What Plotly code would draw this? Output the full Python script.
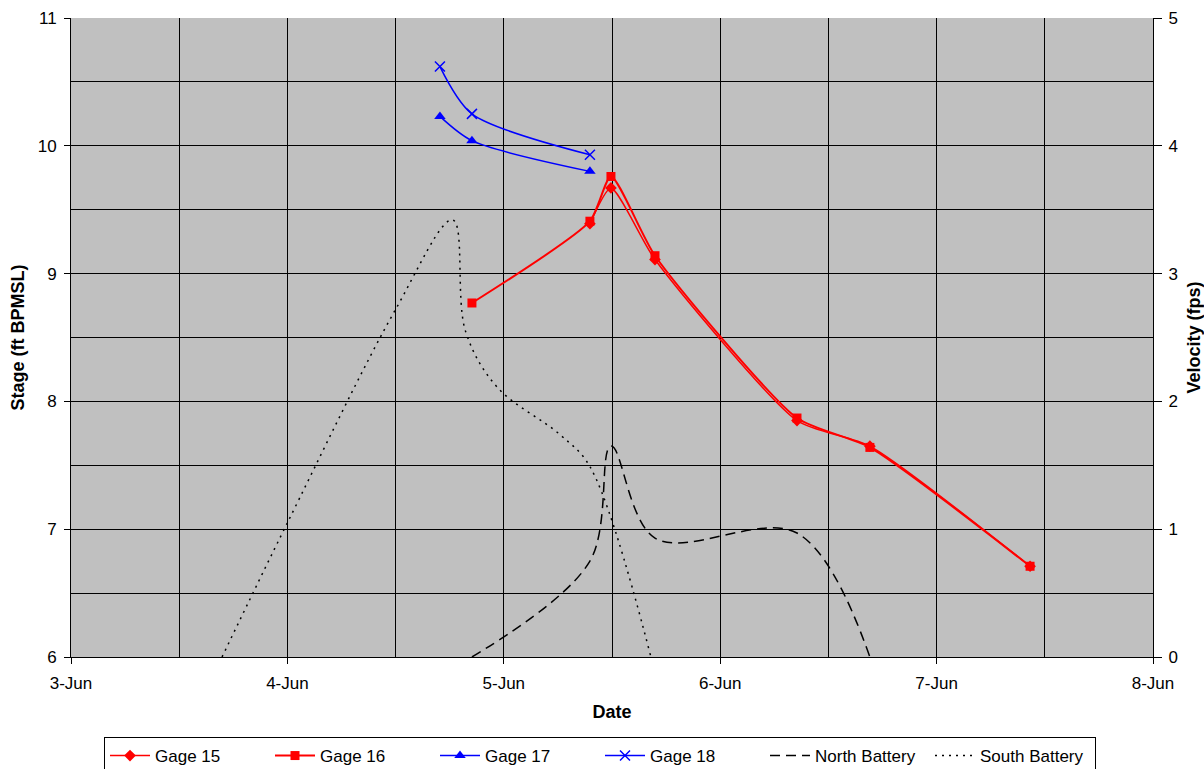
import plotly.graph_objects as go

# ---- data ----
g15_t = ["2008-06-05 09:33", "2008-06-05 11:53", "2008-06-05 16:46", "2008-06-06 08:31", "2008-06-06 16:36", "2008-06-07 10:22"]
g15_v = [9.39, 9.67, 9.11, 7.85, 7.65, 6.71]

g16_t = ["2008-06-04 20:28", "2008-06-05 09:33", "2008-06-05 11:53", "2008-06-05 16:46", "2008-06-06 08:31", "2008-06-06 16:36", "2008-06-07 10:22"]
g16_v = [8.77, 9.41, 9.76, 9.14, 7.87, 7.64, 6.71]

g17_t = ["2008-06-04 16:55", "2008-06-04 20:28", "2008-06-05 09:33"]
g17_v = [10.23, 10.04, 9.80]

g18_t = ["2008-06-04 16:55", "2008-06-04 20:28", "2008-06-05 09:33"]
g18_v = [10.62, 10.25, 9.93]

nb_t = ["2008-06-04 20:28", "2008-06-05 09:33", "2008-06-05 11:53", "2008-06-05 16:46", "2008-06-06 08:31", "2008-06-06 16:36"]
nb_v = [0.0, 0.75, 1.65, 0.93, 0.97, 0.0]

sb_t = ["2008-06-03 16:45", "2008-06-04 00:00", "2008-06-04 12:00", "2008-06-04 18:20",
        "2008-06-04 19:45", "2008-06-04 23:17", "2008-06-05 06:14", "2008-06-05 09:33", "2008-06-05 16:19"]
sb_v = [0.0, 1.05, 2.72, 3.42, 2.55, 2.11, 1.74, 1.49, 0.0]

x_ticks = ["2008-06-03", "2008-06-04", "2008-06-05", "2008-06-06", "2008-06-07", "2008-06-08"]
x_labels = ["3-Jun", "4-Jun", "5-Jun", "6-Jun", "7-Jun", "8-Jun"]

FONT = "Liberation Sans, Arial, sans-serif"
RED = "#FF0000"
BLUE = "#0000FF"
SM = 0.6

fig = go.Figure()
fig.add_trace(go.Scatter(x=g15_t, y=g15_v, name="Gage 15", mode="lines+markers",
                         line=dict(color=RED, width=1.5, shape="spline", smoothing=SM),
                         marker=dict(symbol="diamond", size=9, color=RED)))
fig.add_trace(go.Scatter(x=g16_t, y=g16_v, name="Gage 16", mode="lines+markers",
                         line=dict(color=RED, width=2, shape="spline", smoothing=SM),
                         marker=dict(symbol="square", size=9, color=RED)))
fig.add_trace(go.Scatter(x=g17_t, y=g17_v, name="Gage 17", mode="lines+markers",
                         line=dict(color=BLUE, width=1.5, shape="spline", smoothing=0.8),
                         marker=dict(symbol="triangle-up", size=10, color=BLUE)))
fig.add_trace(go.Scatter(x=g18_t, y=g18_v, name="Gage 18", mode="lines+markers",
                         line=dict(color=BLUE, width=1.5, shape="spline", smoothing=0.8),
                         marker=dict(symbol="x-thin-open", size=10, color=BLUE,
                                     line=dict(color=BLUE, width=1.5))))
fig.add_trace(go.Scatter(x=nb_t, y=nb_v, name="North Battery", mode="lines", yaxis="y2",
                         line=dict(color="black", width=1.5, shape="spline", dash="10px,6px")))
fig.add_trace(go.Scatter(x=sb_t, y=sb_v, name="South Battery", mode="lines", yaxis="y2",
                         line=dict(color="black", width=1.5, shape="spline", smoothing=1.0,
                                   dash="2px,5px")))

fig.update_layout(
    width=1204, height=769,
    margin=dict(l=71, r=51, t=18, b=112, autoexpand=False),
    paper_bgcolor="white", plot_bgcolor="#C0C0C0",
    font=dict(family=FONT, size=17, color="black"),
    showlegend=True,
    legend=dict(orientation="h", x=104 / 1204, xanchor="left", xref="container",
                y=(769 - 737) / 769, yanchor="top", yref="container",
                bordercolor="black", borderwidth=1, bgcolor="white",
                font=dict(size=17), itemwidth=40, entrywidth=110, entrywidthmode="pixels",
                traceorder="normal"),
    xaxis=dict(type="date", range=["2008-06-03", "2008-06-08"],
               tickmode="array", tickvals=x_ticks, ticktext=x_labels,
               showline=True, linecolor="black", linewidth=1, mirror=False,
               ticks="outside", ticklen=6, tickcolor="black", ticklabelstandoff=5,
               showgrid=True, gridcolor="black", gridwidth=1,
               minor=dict(dtick=43200000, showgrid=True, gridcolor="black", gridwidth=1),
               zeroline=False,
               title=dict(text="<b>Date</b>", font=dict(size=18), standoff=12)),
    yaxis=dict(range=[6, 11], dtick=1, tick0=6,
               showline=True, linecolor="black", linewidth=1,
               ticks="outside", ticklen=6, tickcolor="black", ticklabelstandoff=4,
               showgrid=True, gridcolor="black", gridwidth=1,
               minor=dict(dtick=0.5, showgrid=True, gridcolor="black", gridwidth=1),
               zeroline=False,
               title=dict(text="<b>Stage (ft BPMSL)</b>", font=dict(size=18), standoff=8)),
    yaxis2=dict(range=[0, 5], dtick=1, tick0=0, overlaying="y", side="right",
                showline=True, linecolor="black", linewidth=1,
                ticks="outside", ticklen=8, tickcolor="black", ticklabelstandoff=3,
                showgrid=False, zeroline=False,
                title=dict(text="<b>Velocity (fps)</b>", font=dict(size=18), standoff=10)),
)

fig.write_html("out.html")
